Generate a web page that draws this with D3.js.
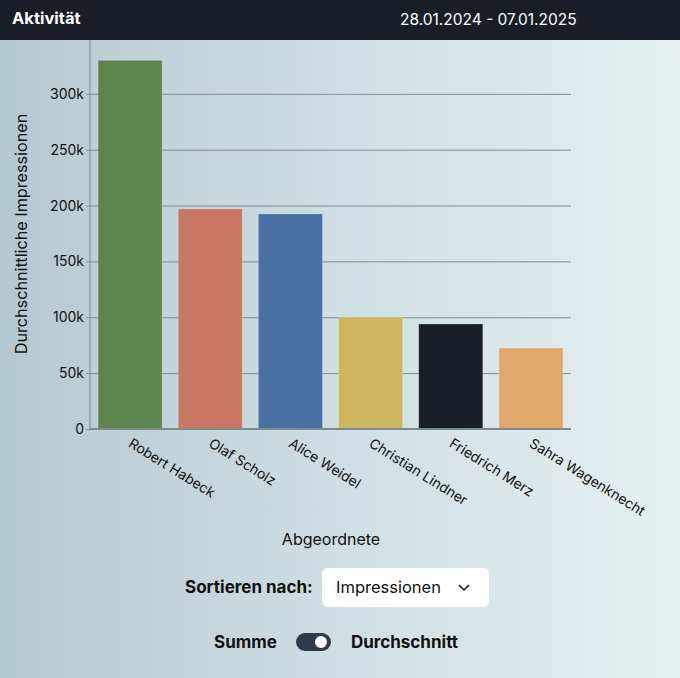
<!DOCTYPE html>
<html>
<head>
<meta charset="utf-8">
<script src="https://cdn.jsdelivr.net/npm/d3@7"></script>
<style>
  html, body { margin: 0; padding: 0; }
  body { width: 680px; height: 678px; overflow: hidden; font-family: Inter, "Noto Sans", sans-serif;
         background: linear-gradient(to right, #b4c9cf 0%, #cfdfe3 50%, #e6f0f1 100%); position: relative; }
  .header { position: absolute; left: 0; top: 0; width: 680px; height: 40px; background: #191e26; color: #fff; }
  .header .title { position: absolute; left: 12px; top: 8px; font-weight: 700; font-size: 16.5px; }
  .header .range { position: absolute; left: 400px; top: 10px; font-size: 15.5px; }
  #chart { position: absolute; left: 0; top: 0; }
  .sort { position: absolute; left: 185px; top: 567px; height: 40px; display: flex; align-items: center; }
  .sort .lbl { font-weight: 700; font-size: 17px; color: #111; width: 137px; }
  .sort .box { width: 167px; height: 39px; background: #fff; border-radius: 6px; display: flex; align-items: center;
               box-sizing: border-box; padding-left: 14px; font-size: 16.5px; color: #111; position: relative; }
  .sort .box svg { position: absolute; left: 136px; top: 16px; }
  .toggle { position: absolute; left: 214px; top: 631px; height: 22px; display: flex; align-items: center; font-weight: 700; font-size: 17px; color: #111; }
  .pill { width: 35px; height: 18px; border-radius: 9px; background: #2f3a4a; margin: 0 20px 0 19px; position: relative; }
  .pill .knob { position: absolute; right: 4px; top: 3px; width: 12px; height: 12px; border-radius: 6px; background: #fff; }
</style>
</head>
<body>
<div class="header"><span class="title">Aktivität</span><span class="range">28.01.2024 - 07.01.2025</span></div>
<svg id="chart" width="680" height="678"></svg>
<div class="sort"><span class="lbl">Sortieren nach:</span>
  <div class="box">Impressionen
    <svg width="12" height="8"><path d="M1,1 L6,6 L11,1" fill="none" stroke="#111" stroke-width="1.5"/></svg>
  </div>
</div>
<div class="toggle"><span>Summe</span><div class="pill"><div class="knob"></div></div><span>Durchschnitt</span></div>
<script>
// data
var names = ["Robert Habeck", "Olaf Scholz", "Alice Weidel", "Christian Lindner", "Friedrich Merz", "Sahra Wagenknecht"]
var impressions = [330000, 197000, 192500, 100000, 94000, 72500]
var colors = ["#5e844e", "#c87762", "#4a6fa5", "#cdb65e", "#191e26", "#e0a86a"]
var yTicks = [0, 50000, 100000, 150000, 200000, 250000, 300000]

var plotLeft = 90, plotRight = 571, plotTop = 40, plotBottom = 429

var svg = d3.select("#chart")

var x = d3.scaleBand().domain(names).range([plotLeft, plotRight]).paddingInner(0.2).paddingOuter(0.1)
var y = d3.scaleLinear().domain([0, d3.max(impressions) * 1.055]).range([plotBottom, plotTop])

// grid + y axis
var yAxis = svg.append("g")
    .attr("transform", "translate(" + plotLeft + ",0)")
    .call(d3.axisLeft(y).tickValues(yTicks).tickSize(-(plotRight - plotLeft)).tickPadding(4)
      .tickFormat(function(d){ return d === 0 ? "0" : (d / 1000) + "k" }))
yAxis.select(".domain").remove()
yAxis.selectAll(".tick line").attr("stroke", "#7d8a90").attr("stroke-width", 1).attr("x1", -4)
yAxis.selectAll(".tick text").attr("font-family", "Inter, sans-serif").attr("font-size", 14).attr("fill", "#111").attr("x", -6)

svg.append("line").attr("x1", plotLeft).attr("x2", plotLeft).attr("y1", plotTop).attr("y2", plotBottom)
    .attr("stroke", "#7d8a90").attr("stroke-width", 1)

// bars
svg.selectAll(".bar")
    .data(names)
    .enter().append("rect")
    .attr("class", "bar")
    .attr("x", function(d){ return x(d) })
    .attr("y", function(d, i){ return y(impressions[i]) })
    .attr("width", x.bandwidth())
    .attr("height", function(d, i){ return plotBottom - y(impressions[i]) })
    .attr("fill", function(d, i){ return colors[i] })
    .attr("stroke", "rgba(255,255,255,0.25)")
    .attr("stroke-width", 1)

// x axis
svg.append("line").attr("x1", plotLeft).attr("x2", plotRight).attr("y1", plotBottom).attr("y2", plotBottom)
    .attr("stroke", "#7d8a90").attr("stroke-width", 2)

svg.selectAll(".xlabel")
    .data(names)
    .enter().append("text")
    .attr("class", "xlabel")
    .attr("transform", function(d){ return "translate(" + (x(d) + x.bandwidth() / 2 + 3) + "," + (plotBottom + 8) + ") rotate(32)" })
    .attr("dy", "0.75em")
    .attr("text-anchor", "start")
    .attr("font-family", "Inter, sans-serif")
    .attr("font-size", 14)
    .attr("fill", "#111")
    .text(function(d){ return d })

// axis titles
svg.append("text")
    .attr("transform", "translate(27,234) rotate(-90)")
    .attr("text-anchor", "middle")
    .attr("font-family", "Inter, sans-serif")
    .attr("font-size", 16.2)
    .attr("fill", "#111")
    .text("Durchschnittliche Impressionen")

svg.append("text")
    .attr("x", 331)
    .attr("y", 545)
    .attr("text-anchor", "middle")
    .attr("font-family", "Inter, sans-serif")
    .attr("font-size", 16)
    .attr("fill", "#111")
    .text("Abgeordnete")
</script>
</body>
</html>
